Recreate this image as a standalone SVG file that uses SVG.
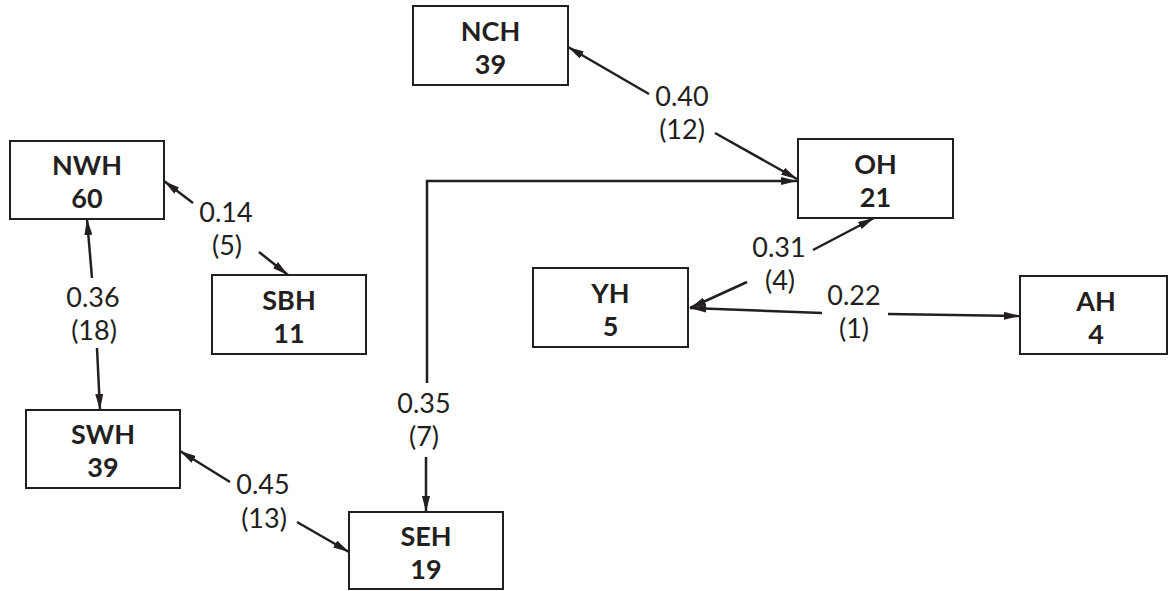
<svg xmlns="http://www.w3.org/2000/svg" width="1169" height="591" viewBox="0 0 1169 591">
<defs>
<marker id="arr" viewBox="0 0 16 8" refX="16" refY="4" markerWidth="16" markerHeight="8" markerUnits="userSpaceOnUse" orient="auto">
<path d="M0,0 L16,4 L0,8 z" fill="#231f20"/>
</marker>
<style>
.box{fill:#fff;stroke:#231f20;stroke-width:2}
.nt{font-family:Lato,"Noto Sans","DejaVu Sans",sans-serif;font-size:27px;font-weight:700;fill:#231f20;text-anchor:middle}
.lb{font-family:Lato,"Noto Sans","DejaVu Sans",sans-serif;font-size:27px;font-weight:400;fill:#231f20;text-anchor:middle}
.ln{fill:none;stroke:#231f20;stroke-width:2.5;marker-end:url(#arr)}
</style>
</defs>
<rect width="1169" height="591" fill="#fff"/>
<g id="connectors">
<line class="ln" x1="649" y1="94" x2="568" y2="47"/>
<line class="ln" x1="715" y1="133" x2="797" y2="179"/>
<path class="ln" d="M427,383 L427,181 L797,181"/>
<line class="ln" x1="426" y1="457" x2="426" y2="512"/>
<line class="ln" x1="193" y1="203" x2="164" y2="181"/>
<line class="ln" x1="259" y1="252" x2="288" y2="275"/>
<line class="ln" x1="92" y1="278" x2="87" y2="219"/>
<line class="ln" x1="97" y1="348" x2="100" y2="410"/>
<line class="ln" x1="230" y1="482" x2="180" y2="451"/>
<line class="ln" x1="297" y1="522" x2="349" y2="552"/>
<line class="ln" x1="813" y1="250" x2="874" y2="218"/>
<line class="ln" x1="747" y1="282" x2="690" y2="308"/>
<line class="ln" x1="822" y1="313" x2="690" y2="308"/>
<line class="ln" x1="888" y1="314" x2="1020" y2="316"/>
<text class="lb" x="682" y="106">0.40</text>
<text class="lb" x="682" y="139">(12)</text>
<text class="lb" x="226" y="222">0.14</text>
<text class="lb" x="227" y="255">(5)</text>
<text class="lb" x="93" y="307">0.36</text>
<text class="lb" x="94" y="340">(18)</text>
<text class="lb" x="263" y="494">0.45</text>
<text class="lb" x="264" y="528">(13)</text>
<text class="lb" x="424" y="413">0.35</text>
<text class="lb" x="424" y="446">(7)</text>
<text class="lb" x="779" y="257">0.31</text>
<text class="lb" x="780" y="290">(4)</text>
<text class="lb" x="854" y="305">0.22</text>
<text class="lb" x="854" y="338">(1)</text>
</g>
<g id="NCH"><rect class="box" x="413" y="6" width="155" height="79"/><text class="nt" x="490.5" y="41">NCH</text><text class="nt" x="490.5" y="74">39</text></g>
<g id="OH"><rect class="box" x="798" y="139" width="155" height="79"/><text class="nt" x="875.5" y="174">OH</text><text class="nt" x="875.5" y="207">21</text></g>
<g id="NWH"><rect class="box" x="10" y="141" width="154" height="78"/><text class="nt" x="87" y="175">NWH</text><text class="nt" x="87" y="208">60</text></g>
<g id="SBH"><rect class="box" x="212" y="275" width="154" height="79"/><text class="nt" x="289" y="310">SBH</text><text class="nt" x="289" y="343">11</text></g>
<g id="SWH"><rect class="box" x="26" y="410" width="154" height="78"/><text class="nt" x="103" y="444">SWH</text><text class="nt" x="103" y="477">39</text></g>
<g id="SEH"><rect class="box" x="349" y="512" width="154" height="77"/><text class="nt" x="426" y="546">SEH</text><text class="nt" x="426" y="579">19</text></g>
<g id="YH"><rect class="box" x="533" y="268" width="155" height="79"/><text class="nt" x="610.5" y="303">YH</text><text class="nt" x="610.5" y="336">5</text></g>
<g id="AH"><rect class="box" x="1020" y="276" width="147" height="78"/><text class="nt" x="1096" y="311">AH</text><text class="nt" x="1096" y="344">4</text></g>
</svg>
